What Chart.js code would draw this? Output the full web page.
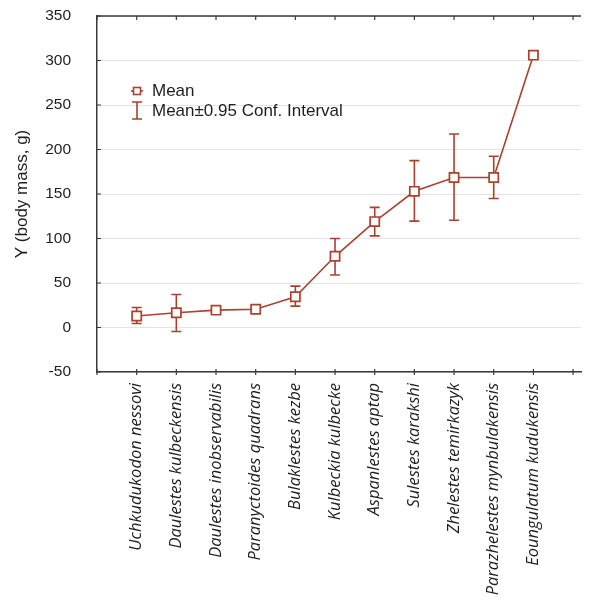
<!DOCTYPE html>
<html>
<head>
<meta charset="utf-8">
<script src="https://cdn.jsdelivr.net/npm/chart.js@4/dist/chart.umd.min.js"></script>
<style>
  html, body { margin: 0; padding: 0; background: #fff; }
  #wrap { width: 592px; height: 601px; }
</style>
</head>
<body>
<div id="wrap"><canvas id="c" width="592" height="601"></canvas></div>
<script>
// Species (category axis, positions 1..11)
const species = [
  'Uchkudukodon nessovi',
  'Daulestes kulbeckensis',
  'Daulestes inobservabilis',
  'Paranyctoides quadrans',
  'Bulaklestes kezbe',
  'Kulbeckia kulbecke',
  'Aspanlestes aptap',
  'Sulestes karakshi',
  'Zhelestes temirkazyk',
  'Parazhelestes mynbulakensis',
  'Eoungulatum kudukensis'
];
// Mean body mass (g)
const means = [13, 16.5, 19.5, 20.5, 34.5, 80, 119, 153, 168.5, 168.5, 306];
// 95% confidence interval bounds (null where no interval)
const ciLow  = [4.5, -4.5, 17.5, 18.5, 24, 59, 103, 119.5, 120.5, 145, null];
const ciHigh = [22.5, 37, 21.5, 22.5, 46.5, 100, 135, 187.5, 217.5, 192.5, null];
// Y axis ticks
const yTicks = [-50, 0, 50, 100, 150, 200, 250, 300, 350];

const RED = '#a9412f';
const INK = '#1e1e1e';
const SANS = '"Liberation Sans", Arial, sans-serif';

const points = means.map((m, i) => ({ x: i + 1, y: m }));

// Draws the confidence-interval whiskers through the chart's scales
const errorBars = {
  id: 'errorBars',
  beforeDatasetsDraw(chart) {
    const { ctx, scales: { x, y } } = chart;
    ctx.save();
    ctx.strokeStyle = RED;
    ctx.lineWidth = 1.6;
    species.forEach((_, i) => {
      if (ciLow[i] == null || ciHigh[i] == null) return;
      const px = x.getPixelForValue(i + 1);
      const lo = y.getPixelForValue(ciLow[i]);
      const hi = y.getPixelForValue(ciHigh[i]);
      ctx.beginPath();
      ctx.moveTo(px, lo); ctx.lineTo(px, hi);
      ctx.moveTo(px - 5, lo); ctx.lineTo(px + 5, lo);
      ctx.moveTo(px - 5, hi); ctx.lineTo(px + 5, hi);
      ctx.stroke();
    });
    ctx.restore();
  }
};

// Frame top line, inward tick marks and the in-plot legend
const frameAndLegend = {
  id: 'frameAndLegend',
  afterDraw(chart) {
    const { ctx, chartArea: a, scales: { x, y } } = chart;
    ctx.save();
    ctx.strokeStyle = '#3a3a3a';
    ctx.lineWidth = 1.5;
    ctx.beginPath();
    ctx.moveTo(a.left, a.top); ctx.lineTo(a.right, a.top);
    ctx.stroke();
    ctx.lineWidth = 1.2;
    ctx.beginPath();
    yTicks.forEach(v => {
      const py = y.getPixelForValue(v);
      ctx.moveTo(a.left, py); ctx.lineTo(a.left + 4, py);
    });
    for (let k = 0; k <= 12; k++) {
      const px = x.getPixelForValue(k);
      ctx.moveTo(px, a.bottom - 3); ctx.lineTo(px, a.bottom + 3);
      ctx.moveTo(px, a.top); ctx.lineTo(px, a.top + 4);
    }
    ctx.stroke();

    // legend
    const lx = 137;
    ctx.strokeStyle = RED;
    ctx.lineWidth = 1.6;
    ctx.beginPath();
    ctx.moveTo(lx - 6, 91); ctx.lineTo(lx + 6, 91);
    ctx.stroke();
    ctx.fillStyle = '#fff';
    ctx.fillRect(lx - 3.5, 87.5, 7, 7);
    ctx.strokeRect(lx - 3.5, 87.5, 7, 7);
    ctx.beginPath();
    ctx.moveTo(lx, 102); ctx.lineTo(lx, 119);
    ctx.moveTo(lx - 5, 102); ctx.lineTo(lx + 5, 102);
    ctx.moveTo(lx - 5, 119); ctx.lineTo(lx + 5, 119);
    ctx.stroke();
    ctx.fillStyle = INK;
    ctx.font = '17px ' + SANS;
    ctx.textBaseline = 'middle';
    ctx.textAlign = 'left';
    ctx.fillText('Mean', 152, 91);
    ctx.fillText('Mean\u00b10.95 Conf. Interval', 152, 111);
    ctx.restore();
  }
};

// Scale boxes keep fixed sizes and no overflow padding
function fixBox(size) {
  return function (s) {
    if (s.isHorizontal()) s.height = size; else s.width = size;
    s.paddingLeft = 0; s.paddingRight = 0; s.paddingTop = 0; s.paddingBottom = 0;
  };
}

new Chart(document.getElementById('c'), {
  type: 'line',
  data: {
    datasets: [{
      label: 'Mean',
      data: points,
      borderColor: RED,
      borderWidth: 1.6,
      pointStyle: 'rect',
      pointRadius: 6.5,
      pointBorderWidth: 1.7,
      pointBackgroundColor: '#fff',
      pointBorderColor: RED,
      fill: false,
      tension: 0
    }]
  },
  options: {
    responsive: false,
    animation: false,
    devicePixelRatio: 1,
    layout: { padding: { top: 16, right: 11, left: 0, bottom: 0 } },
    plugins: { legend: { display: false }, tooltip: { enabled: false } },
    scales: {
      x: {
        type: 'linear',
        min: 0, max: 12.2,
        afterFit: fixBox(229),
        afterBuildTicks(s) { s.ticks = Array.from({ length: 13 }, (_, k) => ({ value: k })); },
        grid: { display: false, drawTicks: false },
        border: { display: true, color: '#3a3a3a', width: 1.5 },
        ticks: {
          autoSkip: false,
          minRotation: 90, maxRotation: 90,
          padding: 11,
          color: INK,
          font: { family: '"Open Sans", sans-serif', style: 'italic', size: 16.5 },
          callback: v => (v >= 1 && v <= species.length ? species[v - 1] : '')
        }
      },
      y: {
        min: -50, max: 350,
        afterFit: fixBox(97),
        afterBuildTicks(s) { s.ticks = yTicks.map(v => ({ value: v })); },
        grid: { color: '#e4e4e4', lineWidth: 1, drawTicks: false },
        border: { display: true, color: '#3a3a3a', width: 1.5 },
        title: {
          display: true,
          text: 'Y (body mass, g)',
          color: INK,
          font: { family: SANS, size: 17 },
          padding: { top: 12, bottom: 4 }
        },
        ticks: {
          padding: 26,
          color: INK,
          font: { family: SANS, size: 15.5 }
        }
      }
    }
  },
  plugins: [errorBars, frameAndLegend]
});
</script>
</body>
</html>
